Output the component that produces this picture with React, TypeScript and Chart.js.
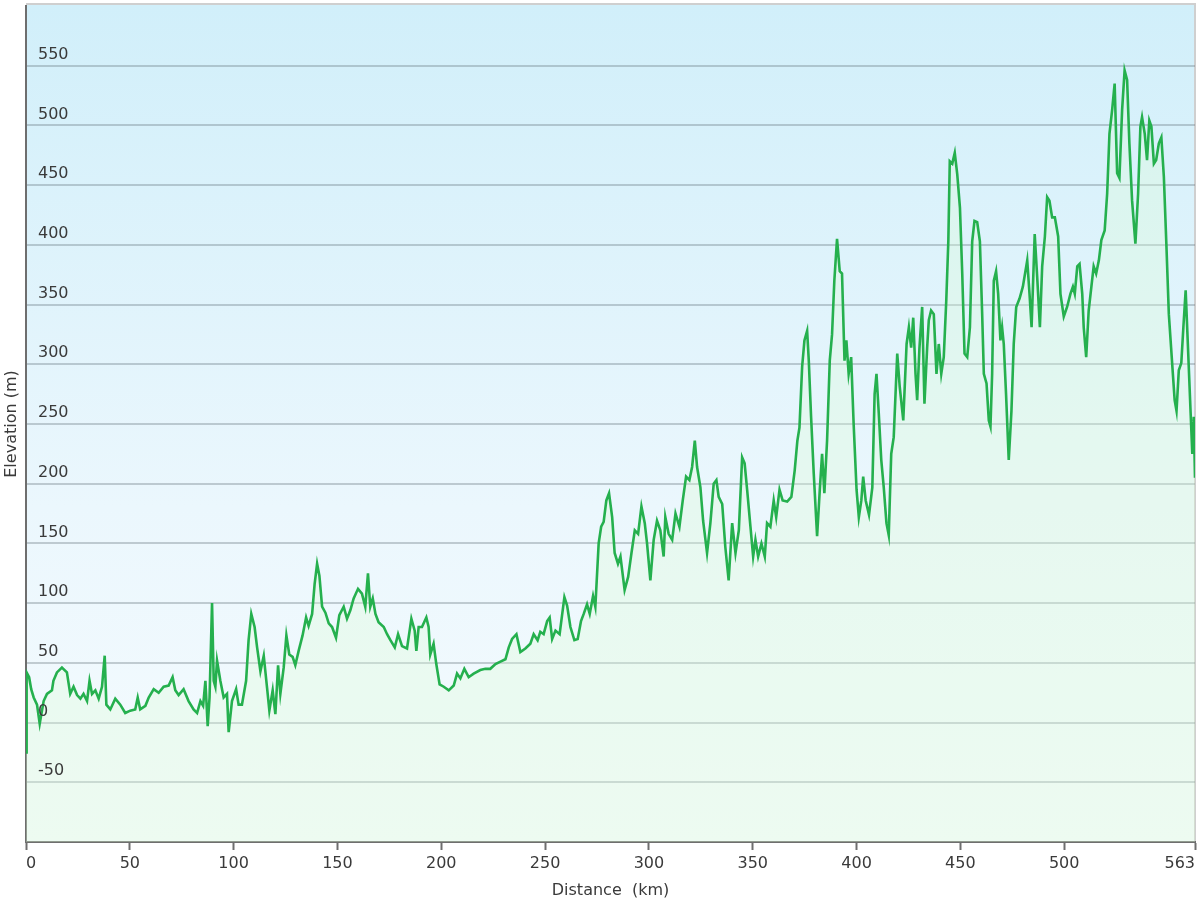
import React, { useEffect, useRef } from 'react';
import { Chart, registerables } from 'chart.js';

Chart.register(...registerables);

// Distance along the route (km)
const distancesKm = [
  0, 0.3, 1.5, 2.5, 3.7, 5.3, 6.6, 8.5, 10.1, 12.5, 13.2, 14.9, 17.3, 19.7, 21.3, 22.9, 24.6, 26.2, 27.7, 29.4,
  30.6, 31.8, 33.4, 35, 36.6, 37.9, 38.7, 40.6, 43, 45.4, 47.8, 50.2, 52.6, 53.8, 55, 57.5, 59.1, 61.5, 63.9, 66.3,
  68.7, 70.6, 71.9, 73.5, 75.9, 78.3, 80.7, 82.4, 84, 85.3, 86.4, 87.5, 88.4, 89.6, 90.4, 91.2, 92, 93.6, 95.2, 96.8,
  97.6, 99.2, 101.2, 102.4, 104, 106, 107.2, 108.5, 110.1, 111.3, 112.9, 114.5, 116.1, 117.2, 118.8, 120.1, 121.4, 122.5, 124.1, 125.4,
  126.8, 128.4, 129.7, 131.3, 133.2, 134.9, 136.1, 137.8, 139, 140.2, 141.3, 142.6, 144.2, 145.8, 147.4, 149.3, 150.9, 153, 154.6, 156.2,
  157.8, 159.9, 161.8, 163.4, 164.7, 165.8, 167, 168.3, 169.8, 172.3, 173.9, 175.5, 177.6, 179.2, 181.1, 183.5, 185.6, 187.2, 188, 189.1,
  190.7, 192.8, 193.9, 194.7, 196.3, 197.6, 199.2, 201.2, 203.6, 206, 207.6, 209.2, 211.1, 213.2, 215.6, 218.8, 221.2, 223.6, 226.1, 228.5,
  230.9, 232.5, 234.1, 236.2, 238.1, 240.5, 242.9, 244.5, 246.4, 247.7, 249.3, 251, 252.2, 253.4, 255, 257, 259.3, 260.6, 262.2, 264.1,
  265.7, 267.3, 268.6, 270.2, 271.5, 273.1, 274.2, 275.8, 277, 278.2, 279.5, 280.8, 282.3, 283.5, 285.1, 286.3, 288.3, 290, 291.6, 293.2,
  294.8, 296.4, 298, 299.1, 300.7, 302.3, 303.9, 305.5, 307.1, 307.9, 309.5, 311.2, 312.8, 314.7, 316.3, 317.9, 319.5, 320.8, 322.1, 323.2,
  324.8, 326.1, 328, 329.6, 331.2, 332.5, 333.6, 335.3, 336.8, 338.4, 340.1, 341.7, 343.3, 344.9, 346.1, 347.3, 348.9, 350.2, 351.3, 352.6,
  354.2, 355.8, 356.9, 358.5, 360.1, 361.3, 362.9, 364.4, 366.6, 368.6, 370.2, 371.5, 372.5, 373.8, 374.9, 376.2, 377, 378.1, 379.4, 381,
  382.3, 383.4, 384.5, 385.8, 387.1, 388.2, 389.3, 390.6, 391.9, 393, 394.2, 395.1, 396.2, 397.4, 398.6, 400, 401.1, 402.3, 403.2, 404.4,
  406, 407.6, 408.7, 409.6, 410.7, 411.9, 413.1, 414.4, 415.5, 416.7, 417.9, 419.6, 420.8, 422.5, 424.1, 425.2, 426.3, 427.3, 428.4, 429.2,
  430.3, 431.6, 432.7, 434, 434.8, 435.9, 437.2, 438.5, 439.6, 440.8, 442, 443.2, 444.2, 444.9, 446.1, 447.3, 448.5, 449.8, 450.9, 452,
  453.3, 454.6, 455.7, 456.8, 458.1, 459.4, 460.5, 461.3, 462.6, 463.7, 464.5, 465.3, 466.1, 467.2, 468.2, 469.3, 470.1, 470.9, 472, 473.3,
  474.6, 475.7, 476.9, 478.5, 480.1, 482.2, 483.3, 484.3, 485.8, 487, 488.3, 489.4, 490.7, 491.8, 492.9, 494.2, 495.5, 497.1, 498.2, 499.8,
  501.4, 503, 504.2, 505.1, 506.3, 507.4, 508.7, 509.4, 510.6, 511.8, 513.1, 514.2, 515.4, 516.7, 517.9, 519.5, 520.7, 521.8, 523.1, 524.3,
  525.5, 526.6, 527.9, 529.1, 530.3, 531.4, 532.7, 534.3, 535.6, 536.7, 537.5, 538.8, 539.9, 541, 542, 543.2, 544.3, 545.6, 546.8, 548,
  549.2, 550.4, 552.1, 553.2, 554.1, 555.2, 556.4, 557.4, 558.5, 559.6, 560.9, 561.7, 562.4, 563,
];

// Elevation (m)
const elevationsM = [
  -25, 42, 38, 28, 21, 15, -1, 18, 24, 27, 35, 42, 46, 42, 24, 30, 23, 20, 24, 18,
  35, 24, 27, 20, 30, 56, 15, 11, 20, 15, 8, 10, 11, 21, 11, 14, 21, 28, 25, 30,
  31, 38, 27, 23, 28, 18, 11, 8, 18, 14, 35, -3, 21, 100, 35, 30, 52, 35, 21, 24,
  -8, 18, 28, 15, 15, 35, 69, 91, 80, 63, 43, 56, 29, 10, 27, 7, 48, 24, 46, 73,
  57, 55, 48, 60, 73, 88, 81, 91, 116, 133, 123, 97, 92, 83, 80, 71, 90, 97, 87, 94,
  104, 112, 108, 97, 125, 97, 104, 91, 84, 80, 74, 69, 63, 74, 64, 62, 87, 77, 60, 80,
  80, 88, 80, 57, 66, 49, 32, 30, 27, 31, 41, 37, 45, 38, 41, 44, 45, 45, 49, 51,
  53, 63, 70, 74, 59, 62, 66, 74, 69, 76, 74, 85, 88, 70, 77, 74, 105, 98, 80, 69,
  70, 85, 91, 99, 91, 106, 97, 150, 164, 168, 186, 192, 172, 142, 133, 139, 111, 122, 142, 161,
  158, 181, 167, 150, 119, 153, 169, 161, 139, 172, 158, 153, 175, 164, 186, 206, 203, 214, 236, 214,
  197, 169, 142, 167, 200, 203, 189, 183, 147, 119, 167, 142, 161, 222, 217, 195, 164, 139, 153, 139,
  150, 139, 167, 164, 186, 172, 195, 186, 185, 189, 211, 236, 247, 298, 320, 328, 303, 256, 208, 156,
  195, 225, 192, 236, 303, 325, 370, 405, 378, 376, 303, 320, 292, 306, 250, 195, 172, 186, 206, 186,
  174, 197, 275, 292, 259, 220, 197, 167, 157, 225, 239, 309, 281, 253, 317, 331, 314, 339, 292, 270,
  314, 348, 267, 314, 337, 345, 342, 292, 317, 292, 306, 353, 403, 470, 468, 477, 459, 431, 376, 309,
  306, 331, 403, 420, 419, 403, 342, 292, 284, 253, 248, 292, 370, 378, 359, 320, 331, 317, 275, 220,
  261, 317, 348, 355, 365, 387, 359, 331, 409, 373, 331, 382, 407, 440, 437, 423, 423, 407, 359, 340,
  348, 359, 365, 359, 382, 384, 359, 331, 306, 345, 365, 382, 376, 387, 404, 412, 443, 493, 513, 535,
  460, 456, 513, 546, 538, 485, 437, 401, 443, 499, 507, 493, 471, 504, 499, 468, 471, 485, 490, 457,
  401, 342, 298, 270, 261, 295, 301, 331, 362, 315, 259, 225, 256, 205,
];

const xTickValues = [0, 50, 100, 150, 200, 250, 300, 350, 400, 450, 500, 563];
const yTickValues = [-50, 0, 50, 100, 150, 200, 250, 300, 350, 400, 450, 500, 550];
const yMin = -100;
const yMax = 600;
const xMax = 563;
const xTitle = 'Distance  (km)';
const yTitle = 'Elevation (m)';

const FONT = '"DejaVu Sans", Verdana, sans-serif';
const TEXT = '#3a3a3a';

const backgroundPlugin = {
  id: 'plotBackground',
  beforeDraw(chart: any) {
    const { ctx, chartArea: a } = chart;
    if (!a) return;
    const g = ctx.createLinearGradient(0, a.top, 0, a.bottom);
    g.addColorStop(0, 'rgb(209,239,250)');
    g.addColorStop(0.6, 'rgb(235,247,253)');
    g.addColorStop(1, 'rgb(245,251,254)');
    ctx.save();
    ctx.fillStyle = g;
    ctx.fillRect(a.left, a.top - 2, a.right - a.left, a.bottom - a.top + 2);
    ctx.strokeStyle = '#cfcfcf';
    ctx.lineWidth = 2;
    ctx.beginPath();
    ctx.moveTo(a.left, a.top - 2);
    ctx.lineTo(a.right, a.top - 2);
    ctx.lineTo(a.right, a.bottom);
    ctx.stroke();
    ctx.restore();
  },
};

export default function App() {
  const canvasRef = useRef<HTMLCanvasElement | null>(null);

  useEffect(() => {
    const canvas = canvasRef.current;
    if (!canvas) return;
    const points = distancesKm.map((d, i) => ({ x: d, y: elevationsM[i] }));
    const chart = new Chart(canvas, {
      type: 'line',
      data: {
        datasets: [
          {
            data: points,
            borderColor: '#25b04e',
            borderWidth: 2.6,
            pointRadius: 0,
            tension: 0,
            fill: 'start',
            backgroundColor: 'rgba(222,252,214,0.32)',
          },
        ],
      },
      options: {
        responsive: false,
        animation: false,
        parsing: true,
        layout: { padding: { top: 6, right: 5, left: 0, bottom: 0 } },
        plugins: {
          legend: { display: false },
          tooltip: { enabled: false },
        },
        scales: {
          x: {
            type: 'linear',
            min: 0,
            max: xMax,
            afterBuildTicks: (scale: any) => {
              scale.ticks = xTickValues.map((v) => ({ value: v }));
            },
            afterFit: (scale: any) => {
              scale.height = 58;
              scale.paddingLeft = 0;
              scale.paddingRight = 0;
            },
            grid: {
              display: true,
              drawOnChartArea: false,
              drawTicks: true,
              tickLength: 8,
              tickWidth: 2,
              tickColor: '#6e6e6e',
            },
            border: { display: true, color: '#6e6e6e', width: 2 },
            ticks: {
              align: 'inner',
              autoSkip: false,
              maxRotation: 0,
              padding: 4,
              color: TEXT,
              font: { family: FONT, size: 16 },
              callback: (v: any) => String(v),
            },
            title: {
              display: true,
              text: xTitle,
              color: TEXT,
              font: { family: FONT, size: 16 },
              padding: { top: 0, bottom: 0 },
            },
          },
          y: {
            type: 'linear',
            min: yMin,
            max: yMax,
            afterBuildTicks: (scale: any) => {
              scale.ticks = yTickValues.map((v) => ({ value: v }));
            },
            afterFit: (scale: any) => {
              scale.width = 26;
              scale.paddingTop = 0;
              scale.paddingBottom = 0;
            },
            grid: {
              display: true,
              drawOnChartArea: true,
              drawTicks: false,
              color: 'rgba(90,105,115,0.32)',
              lineWidth: 2,
            },
            border: { display: true, color: '#6e6e6e', width: 2 },
            ticks: {
              mirror: true,
              padding: 12,
              labelOffset: -11,
              z: 1,
              color: TEXT,
              font: { family: FONT, size: 16 },
              callback: (v: any) => String(v),
            },
            title: {
              display: true,
              text: yTitle,
              color: TEXT,
              font: { family: FONT, size: 16 },
              padding: { top: 2, bottom: 0 },
            },
          },
        },
      },
      plugins: [backgroundPlugin],
    } as any);
    return () => chart.destroy();
  }, []);

  return (
    <div style={{ position: 'absolute', left: 0, top: 0, width: 1200, height: 900, background: '#fff' }}>
      <canvas ref={canvasRef} width={1200} height={900} style={{ display: 'block', width: 1200, height: 900 }} />
    </div>
  );
}
